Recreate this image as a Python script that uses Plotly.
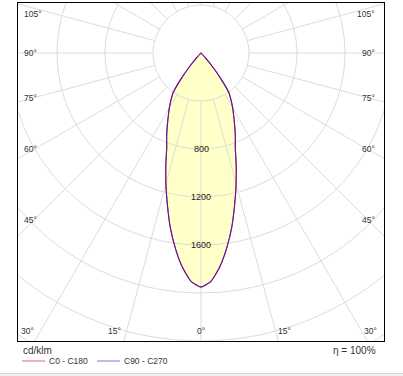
import numpy as np
import plotly.graph_objects as go

# ---------------- data ----------------
gamma_deg = [0, 2.5, 5, 7.5, 10, 12.5, 15, 17.5, 20, 22.5, 25, 27.5, 30,
             32.5, 35, 37.5, 40, 42.5, 45, 90, 135, 180]
c0_c180 = [1950, 1905, 1790, 1640, 1475, 1295, 1130, 975, 835, 748, 663, 590,
           528, 466, 407, 280, 150, 50, 0, 0, 0, 0]
c90_c270 = [1950, 1905, 1790, 1640, 1475, 1295, 1130, 975, 835, 748, 663, 590,
            528, 466, 407, 280, 150, 50, 0, 0, 0, 0]

ring_values = [400, 800, 1200, 1600, 2000, 2400, 2800, 3200]
ring_label_values = [800, 1200, 1600]
spoke_angles = list(range(0, 360, 15))
side_angles = [105, 90, 75, 60, 45]
bottom_angles = [-30, -15, 0, 15, 30]
unit_text = "cd/klm"
series_names = ["C0 - C180", "C90 - C270"]
eta_text = "η = 100%"

# ---------------- layout constants ----------------
W, H = 403, 376
ML, MR, MT, MB = 18, 19, 3, 35
XR = [-1525, 1525]
YR = [-2400, 416.7]
FONT = "Liberation Sans"
GRID = "#dcdcdc"
TXT = "#333333"


def curve_xy(vals):
    g = np.radians(np.array(gamma_deg, dtype=float))
    v = np.array(vals, dtype=float)
    gl = -g[::-1]
    vl = v[::-1]
    ga = np.concatenate([gl, g[1:]])
    va = np.concatenate([vl, v[1:]])
    return va * np.sin(ga), -va * np.cos(ga)


fig = go.Figure()

LINE_SHAPE = dict(shape="spline", smoothing=0.5)

fx, fy = curve_xy(c90_c270)
fig.add_trace(go.Scatter(x=fx, y=fy, mode="lines", fill="toself",
                         fillcolor="#ffffc8", line=dict(width=0, **LINE_SHAPE),
                         hoverinfo="skip", showlegend=False))

rx, ry = [], []
t = np.linspace(0, 2 * np.pi, 721)
for r in ring_values:
    rx += list(r * np.cos(t)) + [None]
    ry += list(r * np.sin(t)) + [None]
fig.add_trace(go.Scatter(x=rx, y=ry, mode="lines", line=dict(color=GRID, width=1),
                         hoverinfo="skip", showlegend=False))

sx, sy = [], []
for a in spoke_angles:
    th = np.radians(a)
    r0, r1 = ring_values[0], 6000
    sx += [r0 * np.sin(th), r1 * np.sin(th), None]
    sy += [-r0 * np.cos(th), -r1 * np.cos(th), None]
fig.add_trace(go.Scatter(x=sx, y=sy, mode="lines", line=dict(color=GRID, width=1),
                         hoverinfo="skip", showlegend=False))

x0, y0 = curve_xy(c0_c180)
fig.add_trace(go.Scatter(x=x0, y=y0, mode="lines", name=series_names[0],
                         line=dict(color="rgb(200,0,60)", width=1.1, **LINE_SHAPE),
                         hoverinfo="skip", showlegend=False))
x1, y1 = curve_xy(c90_c270)
fig.add_trace(go.Scatter(x=x1, y=y1, mode="lines", name=series_names[1],
                         line=dict(color="rgba(50,30,200,0.72)", width=1.1, **LINE_SHAPE),
                         hoverinfo="skip", showlegend=False))

ann = []
for v in ring_label_values:
    ann.append(dict(x=0, y=-v, xref="x", yref="y", text=str(v), showarrow=False,
                    font=dict(family=FONT, size=9, color="#222222"),
                    xanchor="center", yanchor="middle"))

PW = W - ML - MR
PH = H - MT - MB
X_LAB = 1390
for a in side_angles:
    th = np.radians(a)
    y = -X_LAB * np.cos(th) / np.sin(th)
    y = min(y, 325)
    for xp, xa in [((22 - ML) / PW, "left"), ((377 - ML) / PW, "right")]:
        ann.append(dict(x=xp, y=y, xref="paper", yref="y", text=f"{a}°", showarrow=False,
                        font=dict(family=FONT, size=8.5, color=TXT),
                        xanchor=xa, yanchor="middle"))

YB = -2317
for a in bottom_angles:
    xs = -YB * np.tan(np.radians(a))
    if a < 0:
        xa, sh = "right", -4
    elif a > 0:
        xa, sh = "left", 0
    else:
        xa, sh = "center", 0
    ann.append(dict(x=xs, y=YB, xref="x", yref="y", text=f"{abs(a)}°", showarrow=False,
                    font=dict(family=FONT, size=8.5, color=TXT),
                    xanchor=xa, yanchor="middle", xshift=sh))


def py(p):
    return (H - MB - p) / PH


def px(p):
    return (p - ML) / PW


ann.append(dict(x=px(21), y=py(350), xref="paper", yref="paper", text=unit_text,
                showarrow=False, font=dict(family=FONT, size=10, color=TXT),
                xanchor="left", yanchor="middle"))
ann.append(dict(x=px(47), y=py(361), xref="paper", yref="paper", text=series_names[0],
                showarrow=False, font=dict(family=FONT, size=8.5, color=TXT),
                xanchor="left", yanchor="middle"))
ann.append(dict(x=px(122), y=py(361), xref="paper", yref="paper", text=series_names[1],
                showarrow=False, font=dict(family=FONT, size=8.5, color=TXT),
                xanchor="left", yanchor="middle"))
ann.append(dict(x=px(378), y=py(350), xref="paper", yref="paper", text=eta_text,
                showarrow=False, font=dict(family=FONT, size=10, color=TXT),
                xanchor="right", yanchor="middle"))

shapes = [
    dict(type="line", xref="paper", yref="paper", x0=px(22), x1=px(45), y0=py(361), y1=py(361),
         line=dict(color="rgb(240,150,165)", width=1.5)),
    dict(type="line", xref="paper", yref="paper", x0=px(97), x1=px(120), y0=py(361), y1=py(361),
         line=dict(color="rgb(165,165,230)", width=1.5)),
    dict(type="rect", xref="paper", yref="paper", x0=px(0) - 0.1, x1=px(W) + 0.1,
         y0=py(377), y1=py(373.5), line=dict(width=0), fillcolor="#f0f0f0"),
    dict(type="line", xref="paper", yref="paper", x0=px(0) - 0.1, x1=px(W) + 0.1,
         y0=py(373.5), y1=py(373.5), line=dict(color="#d8d8d8", width=1)),
]

axis = dict(showgrid=False, zeroline=False, showticklabels=False, ticks="",
            showline=True, mirror=True, linecolor="#000000", linewidth=1,
            fixedrange=True)
fig.update_layout(
    width=W, height=H,
    margin=dict(l=ML, r=MR, t=MT, b=MB, pad=0),
    paper_bgcolor="white", plot_bgcolor="white",
    xaxis=dict(range=XR, **axis),
    yaxis=dict(range=YR, **axis),
    annotations=ann, shapes=shapes,
    showlegend=False,
)

fig.write_html("out.html", config={"displayModeBar": False},
               post_script="document.body.style.margin='0';document.body.style.overflow='hidden';")
